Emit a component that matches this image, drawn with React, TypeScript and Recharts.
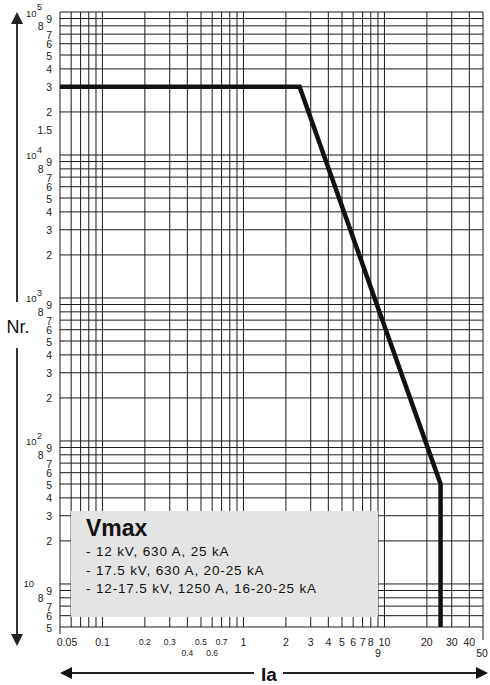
import React from 'react';
import { LineChart, Line, XAxis, YAxis, ReferenceLine } from 'recharts';

// Curve (Nr. of operations vs breaking current Ia, kA)
const curveIa = [0.05, 2.5, 25, 25];
const curveNr = [30000, 30000, 50, 5];

// Grid lines
const xGrid = [0.05, 0.06, 0.07, 0.08, 0.09, 0.1, 0.2, 0.3, 0.4, 0.5, 0.6, 0.7, 0.8, 0.9, 1, 2, 3, 4, 5, 6, 7, 8, 9, 10, 20, 30, 40, 50];
const yGrid = [
  5, 6, 7, 8, 9,
  10, 20, 30, 40, 50, 60, 70, 80, 90,
  100, 200, 300, 400, 500, 600, 700, 800, 900,
  1000, 2000, 3000, 4000, 5000, 6000, 7000, 8000, 9000,
  10000, 20000, 30000, 40000, 50000, 60000, 70000, 80000, 90000,
  100000,
];

// Tick labels
const xTickValues = [0.05, 0.1, 0.2, 0.3, 0.4, 0.5, 0.6, 0.7, 1, 2, 3, 4, 5, 6, 7, 8, 9, 10, 20, 30, 40, 50];
const xTickLabels = ['0.05', '0.1', '0.2', '0.3', '0.4', '0.5', '0.6', '0.7', '1', '2', '3', '4', '5', '6', '7', '8', '9', '10', '20', '30', '40', '50'];

const yTickValues = [
  5, 6, 7, 8, 9,
  10, 20, 30, 40, 50, 60, 70, 80, 90,
  100, 200, 300, 400, 500, 600, 700, 800, 900,
  1000, 2000, 3000, 4000, 5000, 6000, 7000, 8000, 9000,
  10000, 15000, 20000, 30000, 40000, 50000, 60000, 70000, 80000, 90000,
  100000,
];
const yTickLabels = [
  '5', '6', '7', '8', '9',
  '10', '2', '3', '4', '5', '6', '7', '8', '9',
  '10^2', '2', '3', '4', '5', '6', '7', '8', '9',
  '10^3', '2', '3', '4', '5', '6', '7', '8', '9',
  '10^4', '1.5', '2', '3', '4', '5', '6', '7', '8', '9',
  '10^5',
];

const legendTitle = 'Vmax';
const legendLines = [
  '- 12 kV, 630 A, 25 kA',
  '- 17.5 kV, 630 A, 20-25 kA',
  '- 12-17.5 kV, 1250 A, 16-20-25 kA',
];

const data = curveIa.map((x, i) => ({ x, y: curveNr[i] }));

const FONT = '"Liberation Sans", Arial, Helvetica, sans-serif';
const INK = '#1a1a1a';

const lowerRow = new Set(['0.4', '0.6', '9', '50']);
const smallLabels = new Set(['0.2', '0.3', '0.4', '0.5', '0.6', '0.7']);

const XTick = (props: any) => {
  const { x, payload } = props;
  const i = xTickValues.indexOf(payload.value);
  const label = i >= 0 ? xTickLabels[i] : '';
  const lower = lowerRow.has(label);
  const small = smallLabels.has(label);
  let dx = 0;
  if (label === '0.05') dx = 7;
  if (label === '50') dx = -1;
  const isEnd = label === '0.05' || label === '50';
  return (
    <g>
      {isEnd && <line x1={x} x2={x} y1={627} y2={label === '50' ? 640 : 634} stroke={INK} strokeWidth={1} />}
      <text
        x={x + dx}
        y={lower ? 653 : 642}
        textAnchor="middle"
        dominantBaseline="central"
        fontFamily={FONT}
        fontSize={small ? 8.5 : 10.5}
        fill={INK}
      >
        {label}
      </text>
    </g>
  );
};

const YTick = (props: any) => {
  const { y, payload } = props;
  const i = yTickValues.indexOf(payload.value);
  const label = i >= 0 ? yTickLabels[i] : '';
  if (label.startsWith('10^')) {
    const exp = label.slice(3);
    return (
      <g fontFamily={FONT} fill={INK}>
        <text x={36.5} y={y + 1} textAnchor="end" dominantBaseline="central" fontSize={9.5}>10</text>
        <text x={37} y={y - 5} textAnchor="start" dominantBaseline="central" fontSize={9}>{exp}</text>
      </g>
    );
  }
  if (label === '10') {
    return (
      <text x={34} y={y} textAnchor="end" dominantBaseline="central" fontFamily={FONT} fontSize={9.5} fill={INK}>10</text>
    );
  }
  const endX = label === '8' ? 43.5 : 52;
  return (
    <text x={endX} y={y + 0.5} textAnchor="end" dominantBaseline="central" fontFamily={FONT} fontSize={10.5} fill={INK}>
      {label}
    </text>
  );
};

export default function App() {
  return (
    <div style={{ position: 'absolute', left: 0, top: 0, width: 490, height: 685, background: '#fff' }}>
      <LineChart width={490} height={685} data={data} margin={{ top: 12, right: 7, left: 0, bottom: 0 }}>
        <XAxis
          dataKey="x"
          type="number"
          scale="log"
          domain={[0.05, 50]}
          allowDataOverflow
          ticks={xTickValues}
          interval={0}
          tick={<XTick />}
          tickLine={false}
          axisLine={false}
          height={58}
        />
        <YAxis
          type="number"
          scale="log"
          domain={[5, 100000]}
          allowDataOverflow
          ticks={yTickValues}
          interval={0}
          tick={<YTick />}
          tickLine={false}
          axisLine={false}
          width={60}
        />
        {xGrid.map((v) => (
          <ReferenceLine key={'vx' + v} x={v} stroke={INK} strokeWidth={1} ifOverflow="visible" />
        ))}
        {yGrid.map((v) => (
          <ReferenceLine key={'hy' + v} y={v} stroke={INK} strokeWidth={1} ifOverflow="visible" />
        ))}
        <Line
          type="linear"
          dataKey="y"
          stroke="#111"
          strokeWidth={4.5}
          strokeLinejoin="miter"
          dot={false}
          activeDot={false}
          isAnimationActive={false}
        />
      </LineChart>
      <svg
        width={490}
        height={685}
        style={{ position: 'absolute', left: 0, top: 0, pointerEvents: 'none' }}
      >
        {/* legend box */}
        <rect x={71} y={511} width={307} height={106} fill="#e4e4e4" />
        <text x={86} y={536} fontFamily={FONT} fontSize={23} fontWeight="bold" fill="#111">{legendTitle}</text>
        {legendLines.map((t, i) => (
          <text key={t} x={86} y={556 + i * 18.5} fontFamily={FONT} fontSize={13.5} letterSpacing={0.85} fill="#111">{t}</text>
        ))}
        {/* vertical axis arrow */}
        <line x1={17} y1={22} x2={17} y2={302} stroke="#333" strokeWidth={2} />
        <line x1={17} y1={348} x2={17} y2={636} stroke="#333" strokeWidth={2} />
        <polygon points="17,12 11,24 23,24" fill="#222" />
        <polygon points="17,646 11,634 23,634" fill="#222" />
        <text x={18} y={327} textAnchor="middle" dominantBaseline="central" fontFamily={FONT} fontSize={18} fill="#111">Nr.</text>
        {/* horizontal axis arrow */}
        <line x1={70} y1={673} x2={254} y2={673} stroke="#222" strokeWidth={1.8} />
        <line x1={283} y1={673} x2={478} y2={673} stroke="#222" strokeWidth={1.8} />
        <polygon points="60,673 72,667 72,679" fill="#111" />
        <polygon points="488,673 476,667 476,679" fill="#111" />
        <text x={269} y={674} textAnchor="middle" dominantBaseline="central" fontFamily={FONT} fontSize={19} fontWeight="bold" fill="#111">Ia</text>
      </svg>
    </div>
  );
}
